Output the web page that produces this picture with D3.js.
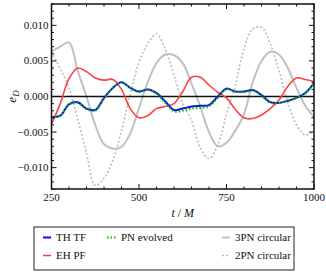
<!DOCTYPE html>
<html>
<head>
<meta charset="utf-8">
<script src="https://cdn.jsdelivr.net/npm/d3@7"></script>
<style>
	body { margin: 0; background: #fff; }
	svg text { font-family: 'Liberation Serif', 'DejaVu Serif', serif; fill: #111; }
</style>
</head>
<body>
<div id="chart"></div>
<script>
//data
const times = d3.range(250, 1001, 25);

const thTF = [-0.0029, -0.0027, -0.0011, -0.0008, -0.0017, -0.0019, -0.0002, 0.0012, 0.0020, 0.0012,
	0.0007, 0.0010, 0.0005, -0.0007, -0.0019, -0.0017, -0.0014, -0.0013, -0.0012, 0.0000,
	0.0011, 0.0007, 0.0007, 0.0009, 0.0002, -0.0008, -0.0009, -0.0006, -0.0002, 0.0005, 0.0019];

const pnEvolved = [-0.0029, -0.0027, -0.0011, -0.0009, -0.0018, -0.0020, -0.0003, 0.0012, 0.0020, 0.0012,
	0.0006, 0.0010, 0.0004, -0.0009, -0.0021, -0.0020, -0.0017, -0.0016, -0.0014, -0.0002,
	0.0010, 0.0007, 0.0006, 0.0008, 0.0001, -0.0009, -0.0009, -0.0006, -0.0002, 0.0004, 0.0019];

const ehPF = [-0.0039, -0.0010, 0.0025, 0.0040, 0.0035, 0.0026, 0.0023, 0.0024, 0.0010, -0.0017,
	-0.0030, -0.0027, -0.0017, -0.0014, -0.0010, 0.0007, 0.0027, 0.0027, 0.0016, 0.0006,
	-0.0002, -0.0018, -0.0030, -0.0031, -0.0026, -0.0017, -0.0005, 0.0014, 0.0026, 0.0024, 0.0021];

const pn3Circular = [0.0063, 0.0070, 0.0076, 0.0036, 0.0000, -0.0040, -0.0067, -0.0073, -0.0071, -0.0052,
	-0.0016, 0.0020, 0.0047, 0.0059, 0.0058, 0.0047, 0.0018, -0.0014, -0.0050, -0.0070,
	-0.0065, -0.0048, -0.0025, 0.0020, 0.0050, 0.0063, 0.0059, 0.0040, 0.0012, -0.0013, -0.0029];

const pn2Circular = [0.0063, 0.0039, 0.0012, -0.0032, -0.0080, -0.0125, -0.0115, -0.0090, -0.0048, 0.0003,
	0.0048, 0.0074, 0.0088, 0.0066, 0.0030, -0.0010, -0.0034, -0.0072, -0.0087, -0.0068,
	-0.0025, 0.0015, 0.0067, 0.0095, 0.0097, 0.0074, 0.0036, -0.0008, -0.0040, -0.0054, -0.0049];

const xTicks = [250, 500, 750, 1000];
const yTicks = [-0.01, -0.005, 0, 0.005, 0.01];

const legendItems = [
	{ name: 'TH TF', values: thTF, color: '#1010e0', width: 2, dash: null, col: 0, row: 0 },
	{ name: 'EH PF', values: ehPF, color: '#ff4040', width: 1.6, dash: null, col: 0, row: 1 },
	{ name: 'PN evolved', values: pnEvolved, color: '#00c000', width: 2, dash: '1.5,2', col: 1, row: 0 },
	{ name: '3PN circular', values: pn3Circular, color: '#c0c0c0', width: 2, dash: null, col: 2, row: 0 },
	{ name: '2PN circular', values: pn2Circular, color: '#bdbdbd', width: 1.6, dash: '2,2', col: 2, row: 1 },
];

render();

function render() {
	const width = 326;
	const height = 273;
	const margin = { left: 51.5, right: 12, top: 4, bottom: 84 };

	const svg = d3.select('#chart').append('svg')
		.attr('width', width)
		.attr('height', height);

	const x = d3.scaleLinear().domain([250, 1000]).range([margin.left, width - margin.right]);
	const y = d3.scaleLinear().domain([-0.013, 0.013]).range([height - margin.bottom, margin.top]);

	const line = (vals) => d3.line()
		.x((d, i) => x(times[i]))
		.y((d) => y(d))
		.curve(d3.curveCatmullRom.alpha(0.5))(vals);

	svg.append('clipPath').attr('id', 'clip')
		.append('rect')
		.attr('x', x(250)).attr('y', y(0.013))
		.attr('width', x(1000) - x(250)).attr('height', y(-0.013) - y(0.013));

	const plot = svg.append('g').attr('clip-path', 'url(#clip)');

	const drawOrder = [3, 4, 'zero', 1, 0, 2];
	drawOrder.forEach((k) => {
		if (k === 'zero') {
			plot.append('line')
				.attr('x1', x(250)).attr('x2', x(1000))
				.attr('y1', y(0)).attr('y2', y(0))
				.style('stroke', '#111').style('stroke-width', 1.5);
			return;
		}
		const s = legendItems[k];
		plot.append('path')
			.attr('d', line(s.values))
			.style('fill', 'none')
			.style('stroke', s.color)
			.style('stroke-width', s.width)
			.style('stroke-dasharray', s.dash);
	});

	//axes, ticks inward on all four sides
	const minorX = d3.range(250, 1001, 50);
	const minorY = d3.range(-13, 14, 1).map((d) => d / 1000);
	const bottom = y(-0.013), top = y(0.013), left = x(250), right = x(1000);

	const ticks = svg.append('g').style('stroke', '#111').style('stroke-width', 1);
	minorX.forEach((t) => {
		const len = xTicks.includes(t) ? 5 : 2.5;
		ticks.append('line').attr('x1', x(t)).attr('x2', x(t)).attr('y1', bottom).attr('y2', bottom - len);
		ticks.append('line').attr('x1', x(t)).attr('x2', x(t)).attr('y1', top).attr('y2', top + len);
	});
	minorY.forEach((v) => {
		const major = Math.abs((v * 1000) % 5) < 1e-9;
		const len = major ? 5 : 2.5;
		ticks.append('line').attr('x1', left).attr('x2', left + len).attr('y1', y(v)).attr('y2', y(v));
		ticks.append('line').attr('x1', right).attr('x2', right - len).attr('y1', y(v)).attr('y2', y(v));
	});

	svg.append('rect')
		.attr('x', left).attr('y', top)
		.attr('width', right - left).attr('height', bottom - top)
		.style('fill', 'none').style('stroke', '#111').style('stroke-width', 1.5);

	svg.selectAll('.xlab').data(xTicks).enter().append('text')
		.attr('class', 'xlab')
		.attr('x', (d) => x(d)).attr('y', bottom + 12)
		.style('text-anchor', 'middle').style('font-size', '11px')
		.text((d) => d);

	const fmt = (d) => (d < 0 ? '\u2212' : '') + Math.abs(d).toFixed(3);
	svg.selectAll('.ylab').data(yTicks).enter().append('text')
		.attr('class', 'ylab')
		.attr('x', left - 3).attr('y', (d) => y(d) + 3.5)
		.style('text-anchor', 'end').style('font-size', '11px')
		.text(fmt);

	//axis titles
	const xt = svg.append('text')
		.attr('x', (left + right) / 2).attr('y', bottom + 28)
		.style('text-anchor', 'middle').style('font-size', '12px');
	xt.append('tspan').style('font-style', 'italic').text('t');
	xt.append('tspan').text(' / ');
	xt.append('tspan').style('font-style', 'italic').text('M');

	const yt = svg.append('text')
		.attr('transform', translation(16, y(0)) + ' rotate(-90)')
		.style('text-anchor', 'middle').style('font-size', '13px');
	yt.append('tspan').style('font-style', 'italic').text('e');
	yt.append('tspan').style('font-style', 'italic').style('font-size', '9px').attr('dy', 3).text('D');

	//legend
	const lg = svg.append('g').attr('transform', translation(34, 227));
	lg.append('rect')
		.attr('width', 260).attr('height', 43)
		.style('fill', '#fff').style('stroke', '#222').style('stroke-width', 1);
	const colX = [9, 73, 188];
	const lineLen = [8, 9, 8];
	const rowY = [10.5, 28.5];
	legendItems.forEach((s) => {
		const g = lg.append('g').attr('transform', translation(colX[s.col], rowY[s.row]));
		g.append('line')
			.attr('x1', 0).attr('x2', lineLen[s.col]).attr('y1', 0).attr('y2', 0)
			.style('stroke', s.color).style('stroke-width', s.width)
			.style('stroke-dasharray', s.dash);
		g.append('text')
			.attr('x', lineLen[s.col] + 5).attr('y', 3.8)
			.style('font-size', '11px')
			.text(s.name);
	});
}

//utils
function translation(x, y) {
	return `translate(${x}, ${y})`;
}
</script>
</body>
</html>
